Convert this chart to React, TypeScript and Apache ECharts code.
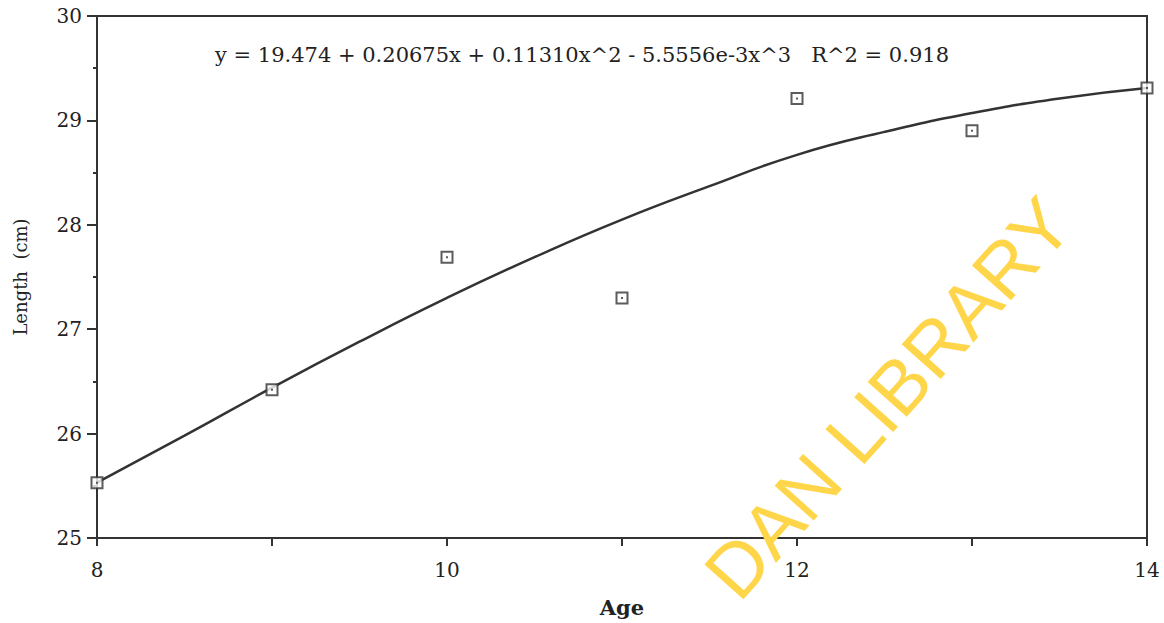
import React, { useEffect, useRef } from "react";
import * as echarts from "echarts";

const ages = [8, 9, 10, 11, 12, 13, 14];
const lengths = [25.53, 26.42, 27.69, 27.3, 29.21, 28.9, 29.31];
const fitAges = [8, 8.5, 9, 9.5, 10, 10.5, 11, 11.5, 12, 12.5, 13, 13.5, 14];
const fitLengths = [25.53, 25.98, 26.44, 26.88, 27.3, 27.69, 28.05, 28.37, 28.67, 28.89, 29.07, 29.21, 29.31];
const xLabels = ["8", "10", "12", "14"];
const equation = "y = 19.474 + 0.20675x + 0.11310x^2 - 5.5556e-3x^3   R^2 = 0.918";

const SERIF = "'DejaVu Serif', 'Liberation Serif', serif";
const INK = "#333";

export default function App() {
  const ref = useRef<HTMLDivElement>(null);
  useEffect(() => {
    if (!ref.current) return;
    const chart = echarts.init(ref.current, undefined, { renderer: "svg" });
    chart.setOption({
      animation: false,
      backgroundColor: "#fff",
      grid: { left: 97, right: 17, top: 16, bottom: 85, show: true, borderColor: INK, borderWidth: 2 },
      xAxis: {
        type: "value",
        min: 8,
        max: 14,
        interval: 1,
        name: "Age",
        nameLocation: "middle",
        nameGap: 59,
        nameTextStyle: { fontFamily: SERIF, fontSize: 21, fontWeight: "bold", color: "#222" },
        axisLine: { show: true, onZero: false, lineStyle: { color: INK, width: 2 } },
        axisTick: { show: true, length: 8, lineStyle: { color: INK, width: 2 } },
        axisLabel: {
          margin: 22,
          fontFamily: SERIF,
          fontSize: 20,
          color: "#222",
          formatter: (v: number) => (xLabels.includes(String(v)) ? String(v) : ""),
        },
        splitLine: { show: false },
      },
      yAxis: {
        type: "value",
        min: 25,
        max: 30,
        interval: 1,
        name: "Length  (cm)",
        nameLocation: "middle",
        nameGap: 68,
        nameTextStyle: { fontFamily: SERIF, fontSize: 18, color: "#222" },
        axisLine: { show: true, onZero: false, lineStyle: { color: INK, width: 2 } },
        axisTick: { show: true, length: 10, lineStyle: { color: INK, width: 2 } },
        minorTick: { show: true, splitNumber: 2, length: 4, lineStyle: { color: INK, width: 2 } },
        axisLabel: { margin: 15, fontFamily: SERIF, fontSize: 20, color: "#222" },
        splitLine: { show: false },
      },
      graphic: [
        {
          type: "text",
          x: 582,
          y: 55,
          z: 10,
          style: {
            text: equation,
            font: `21px ${SERIF}`,
            fill: "#222",
            textAlign: "center",
            textVerticalAlign: "middle",
          },
        },
        {
          type: "text",
          x: 888,
          y: 398,
          rotation: 0.84,
          z: 20,
          style: {
            text: "DAN LIBRARY",
            font: `76px 'Liberation Sans', sans-serif`,
            fill: "#FFD54A",
            textAlign: "center",
            textVerticalAlign: "middle",
          },
        },
      ],
      series: [
        {
          type: "line",
          data: fitAges.map((a, i) => [a, fitLengths[i]]),
          smooth: true,
          showSymbol: false,
          lineStyle: { color: INK, width: 2.5 },
          z: 2,
        },
        {
          type: "scatter",
          data: ages.map((a, i) => [a, lengths[i]]),
          symbol: "rect",
          symbolSize: 11,
          itemStyle: { color: "#fff", borderColor: INK, borderWidth: 2 },
          z: 3,
        },
        {
          type: "scatter",
          data: ages.map((a, i) => [a, lengths[i]]),
          symbol: "rect",
          symbolSize: 2,
          itemStyle: { color: INK },
          z: 4,
        },
      ],
    });
    return () => chart.dispose();
  }, []);
  return <div ref={ref} style={{ position: "fixed", left: 0, top: 0, width: 1164, height: 623 }} />;
}
